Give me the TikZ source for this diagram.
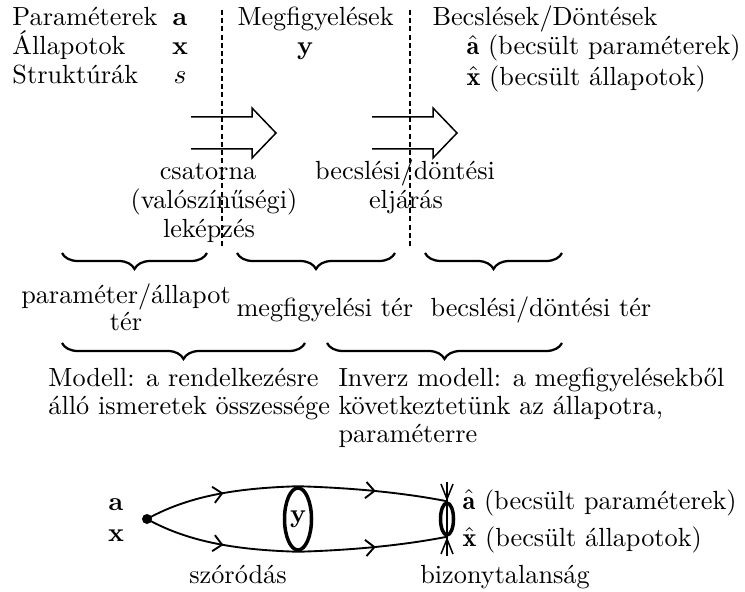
\documentclass[tikz,border=0pt]{standalone}
\usepackage{fontspec}
\usetikzlibrary{decorations.pathreplacing,decorations.markings,arrows.meta,shapes.geometric}
\tikzset{
  txt/.style={inner sep=0pt, font=\fontsize{10.5}{12.5}\selectfont},
  tw/.style={txt, anchor=base west},
  tc/.style={txt, anchor=base},
  sepline/.style={line width=0.6pt, dash pattern=on 2pt off 1.3pt},
  bigarrow/.style={line width=0.6pt, line join=miter},
  brc/.style={decorate, decoration={brace, mirror, amplitude=6.4pt}, line width=0.9pt},
  curve/.style={line width=0.75pt, postaction={decorate},
    decoration={markings, mark=at position 0.52 with {\arrow{Straight Barb[length=3.5pt,width=6.5pt,line width=0.75pt]}}}},
  ell/.style={draw, ellipse, line width=1.4pt, inner sep=0pt},
  thin/.style={line width=0.6pt},
}
\begin{document}
\begin{tikzpicture}[x=0.4pt, y=-0.4pt]
\useasboundingbox (0,0) rectangle (745,592);

% top table
\node[tw] (pa) at (12,26) {Paraméterek};
\node[tc] (pab) at (180,26) {\textbf{a}};
\node[tw] (al) at (12,55) {Állapotok};
\node[tc] (alx) at (180,55) {\textbf{x}};
\node[tw] (st) at (12,84) {Struktúrák};
\node[tc] (sts) at (180,84) {$s$};
\node[tw] (me) at (237,26) {Megfigyelések};
\node[tc] (mey) at (305,55) {\textbf{y}};
\node[tw] (be) at (432,26) {Becslések/Döntések};
\node[tw] (ba) at (466,55) {$\hat{\mathbf{a}}$ (becsült paraméterek)};
\node[tw] (bx) at (466,86) {$\hat{\mathbf{x}}$ (becsült állapotok)};

% dashed separators
\coordinate (d1t) at (222,10); \coordinate (d1b) at (222,247);
\coordinate (d2t) at (410,10); \coordinate (d2b) at (410,247);
\draw[sepline] (d1t) -- (d1b);
\draw[sepline] (d2t) -- (d2b);

% hollow arrows
\draw[bigarrow] (191,117) -- (252,117) -- (252,108) -- (276,133) -- (252,158) -- (252,149) -- (191,149);
\draw[bigarrow] (372,117) -- (433,117) -- (433,108) -- (457,133) -- (433,158) -- (433,149) -- (372,149);

\node[tc] (cs1) at (208,180) {csatorna};
\node[tc] (cs2) at (214,209) {(valószínűségi)};
\node[tc] (cs3) at (209,238) {leképzés};
\node[tc] (bd1) at (405,180) {becslési/döntési};
\node[tc] (bd2) at (406,209) {eljárás};

% first row of braces
\draw[brc] (62,253) -- (207,253);
\draw[brc] (237,253) -- (395,253);
\draw[brc] (425,253) -- (562,253);

\node[tc] (pt1) at (126,303) {paraméter/állapot};
\node[tc] (pt2) at (126,330) {tér};
\node[tw] (mt) at (236,316) {megfigyelési tér};
\node[tw] (bt) at (430,316) {becslési/döntési tér};

% second row of braces
\draw[brc] (62,343) -- (305,343);
\draw[brc] (327,343) -- (562,343);

\node[tw] (m1) at (48,386) {Modell: a rendelkezésre};
\node[tw] (m2) at (48,414) {álló ismeretek összessége};
\node[tw] (i1) at (338,386) {Inverz modell: a megfigyelésekből};
\node[tw] (i2) at (338,414) {következtetünk az állapotra,};
\node[tw] (i3) at (338,442) {paraméterre};

% bottom diagram
\node[tc] (ba2) at (116,510) {\textbf{a}};
\node[tc] (bx2) at (116,541) {\textbf{x}};
\node[circle, fill, inner sep=0pt, minimum size=4pt] (dot) at (147,519) {};
\node[ell, minimum width=10.8pt, minimum height=24.8pt] (Y) at (298,519) {};
\node[txt] (Yl) at (298,519) {\textbf{y}};
\node[ell, minimum width=5.2pt, minimum height=12.8pt] (S) at (447,519) {};

\draw[curve] (dot.center) .. controls (190,495) and (240,488) .. (Y.north);
\draw[curve] (dot.center) .. controls (190,543) and (240,550) .. (Y.south);
\draw[curve] (Y.north) .. controls (360,488) and (410,494) .. (S.north);
\draw[curve] (Y.south) .. controls (360,550) and (410,544) .. (S.south);

\coordinate (vt) at (447,482); \coordinate (vb) at (447,556);
\draw[thin] (vt) -- (vb);
\draw[thin] (441,484) -- (447,499) -- (453,484);
\draw[thin] (441,554) -- (447,539) -- (453,554);

\node[tw] (ea) at (462,509) {$\hat{\mathbf{a}}$ (becsült paraméterek)};
\node[tw] (ex) at (462,546) {$\hat{\mathbf{x}}$ (becsült állapotok)};
\node[tc] (sz) at (238,583) {szóródás};
\node[tc] (bz) at (505,583) {bizonytalanság};
\end{tikzpicture}
\end{document}
